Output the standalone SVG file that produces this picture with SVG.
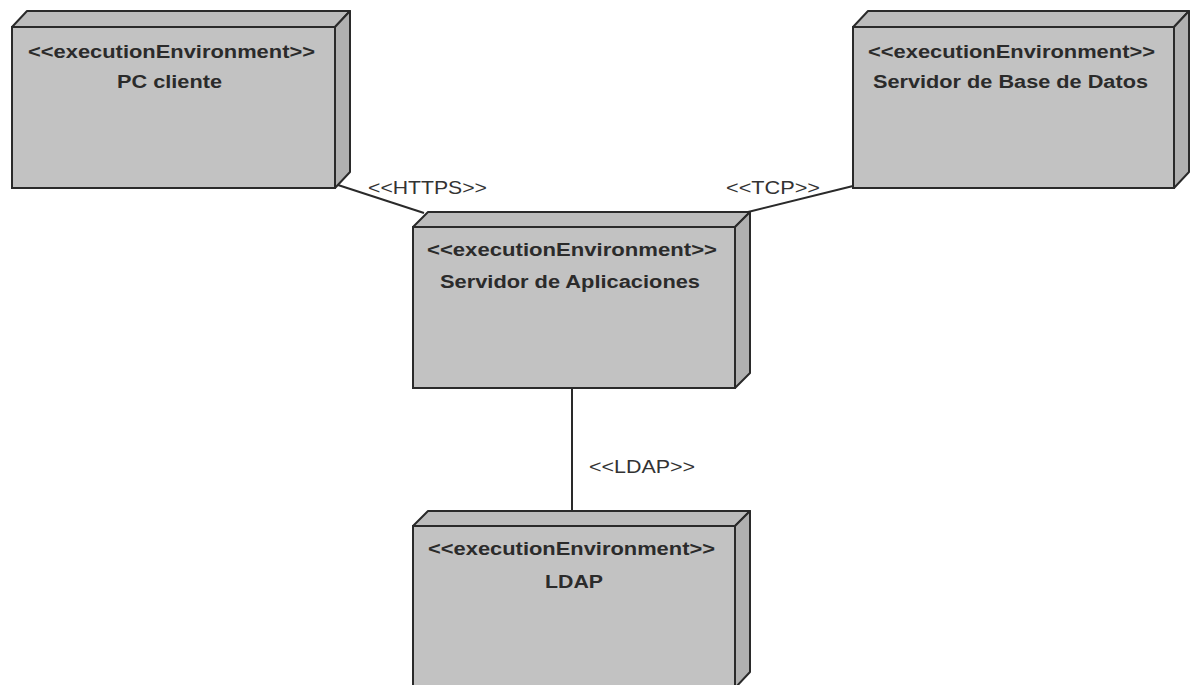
<svg xmlns="http://www.w3.org/2000/svg" width="1194" height="685" viewBox="0 0 1194 685">
<style>
.front{fill:#c2c2c2;stroke:#2a2a2a;stroke-width:2}
.top{fill:#bcbcbc;stroke:#2a2a2a;stroke-width:2;stroke-linejoin:round}
.side{fill:#b0b0b0;stroke:#2a2a2a;stroke-width:2;stroke-linejoin:round}
.st{font-family:"Liberation Sans",Arial,sans-serif;font-weight:bold;font-size:18px;fill:#2b2b2b}
.lbl{font-family:"Liberation Sans",Arial,sans-serif;font-size:18px;fill:#333}
.conn{stroke:#2a2a2a;stroke-width:2;fill:none}
</style>
<rect width="1194" height="685" fill="#ffffff"/>
<g id="connectors">
<line class="conn" x1="338" y1="185" x2="424" y2="213"/>
<line class="conn" x1="748" y1="212" x2="853" y2="186"/>
<line class="conn" x1="572" y1="388" x2="572" y2="511"/>
<text class="lbl" x="368" y="194" textLength="119" lengthAdjust="spacingAndGlyphs">&lt;&lt;HTTPS&gt;&gt;</text>
<text class="lbl" x="726" y="194" textLength="94" lengthAdjust="spacingAndGlyphs">&lt;&lt;TCP&gt;&gt;</text>
<text class="lbl" x="589" y="473" textLength="106" lengthAdjust="spacingAndGlyphs">&lt;&lt;LDAP&gt;&gt;</text>
</g>
<g id="node-pc">
<polygon class="top" points="12,27 27,11 350,11 335,27"/>
<polygon class="side" points="335,27 350,11 350,172 335,188"/>
<rect class="front" x="12" y="27" width="323" height="161"/>
<text class="st" x="28" y="58" textLength="287" lengthAdjust="spacingAndGlyphs">&lt;&lt;executionEnvironment&gt;&gt;</text>
<text class="st" x="117" y="88" textLength="105" lengthAdjust="spacingAndGlyphs">PC cliente</text>
</g>
<g id="node-db">
<polygon class="top" points="853,27 868,11 1189,11 1174,27"/>
<polygon class="side" points="1174,27 1189,11 1189,172 1174,188"/>
<rect class="front" x="853" y="27" width="321" height="161"/>
<text class="st" x="868" y="58" textLength="287" lengthAdjust="spacingAndGlyphs">&lt;&lt;executionEnvironment&gt;&gt;</text>
<text class="st" x="873" y="88" textLength="275" lengthAdjust="spacingAndGlyphs">Servidor de Base de Datos</text>
</g>
<g id="node-app">
<polygon class="top" points="413,227 428,212 750,212 735,227"/>
<polygon class="side" points="735,227 750,212 750,373 735,388"/>
<rect class="front" x="413" y="227" width="322" height="161"/>
<text class="st" x="427" y="256" textLength="290" lengthAdjust="spacingAndGlyphs">&lt;&lt;executionEnvironment&gt;&gt;</text>
<text class="st" x="440" y="288" textLength="260" lengthAdjust="spacingAndGlyphs">Servidor de Aplicaciones</text>
</g>
<g id="node-ldap">
<polygon class="top" points="413,526 428,511 750,511 735,526"/>
<polygon class="side" points="735,526 750,511 750,672 735,688"/>
<rect class="front" x="413" y="526" width="322" height="170"/>
<text class="st" x="428" y="555" textLength="287" lengthAdjust="spacingAndGlyphs">&lt;&lt;executionEnvironment&gt;&gt;</text>
<text class="st" x="545" y="588" textLength="58" lengthAdjust="spacingAndGlyphs">LDAP</text>
</g>
</svg>
